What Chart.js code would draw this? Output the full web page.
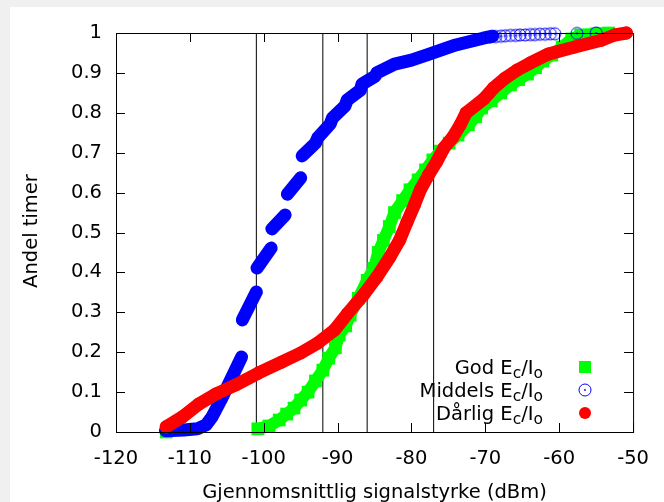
<!DOCTYPE html>
<html>
<head>
<meta charset="utf-8">
<script src="https://cdn.jsdelivr.net/npm/chart.js@4.4.1/dist/chart.umd.min.js"></script>
<style>
  html, body { margin: 0; padding: 0; background: #f0f0f0; overflow: hidden; }
  #wrap { position: absolute; left: 10px; top: 7px; width: 654px; height: 495px; background: #fff; }
  #chart { display: block; }
</style>
</head>
<body>
<div id="wrap"><canvas id="chart" width="654" height="495"></canvas></div>
<script>
// Akser
const xTicks = [-120, -110, -100, -90, -80, -70, -60, -50];
const yTicks = [0, 0.1, 0.2, 0.3, 0.4, 0.5, 0.6, 0.7, 0.8, 0.9, 1];
const yTickLabels = ['0', '0.1', '0.2', '0.3', '0.4', '0.5', '0.6', '0.7', '0.8', '0.9', '1'];
const xTitle = 'Gjennomsnittlig signalstyrke (dBm)';
const yTitle = 'Andel timer';

// Loddrette referanselinjer (dBm)
const refLines = [-101, -92, -86, -77];

// Serier: signalstyrke (x) og andel timer (y), null = brudd i kurven
const seriesNames = ['God', 'Middels', 'Dårlig'];

const godX = [-113.2, null,
  -100.8, -99.3, -97.9, -96.9, -95.9, -95.0, -94.0, -93.0, -92.0, -91.2, -90.3, -89.8, -88.9, -88.3, -87.2,
  -86.0, -85.1, -84.5, -83.8, -83.0, -82.3, -81.2, -80.2, -79.1, -78.1, -77.1, -76.1, -74.9, -73.7, -72.3,
  -71.3, -70.5, -69.2, -67.9, -66.6, -65.5, -64.3, -63.2, -62.2, -61.0, -59.6, -58.3, -57.1, -55.0, -53.3];
const godY = [0, null,
  0.008, 0.015, 0.030, 0.045, 0.060, 0.080, 0.100, 0.128, 0.155, 0.185, 0.211, 0.243, 0.266, 0.293, 0.335,
  0.380, 0.410, 0.450, 0.480, 0.515, 0.550, 0.580, 0.607, 0.632, 0.657, 0.682, 0.704, 0.724, 0.744, 0.770,
  0.790, 0.812, 0.830, 0.850, 0.870, 0.883, 0.897, 0.913, 0.930, 0.945, 0.965, 0.985, 0.995, 0.998, 1.0];

const middelsX = [-113.3, -110.8, -109.0, -107.8, -107.0, -105.8, -104.5, -103.0, null,
  -102.9, -101.0, null,
  -100.9, -99.0, null,
  -98.9, -97.1, null,
  -96.8, -95.0, null,
  -94.8, -93.0, -92.7, -91.0, -90.7, -89.0, -88.7, -86.9, -86.7, -84.9, -84.7, -82.3, -80.0, -77.6, -74.0, -70.3, -69.0];
const middelsY = [0.003, 0.005, 0.008, 0.018, 0.038, 0.080, 0.130, 0.188, null,
  0.281, 0.351, null,
  0.411, 0.461, null,
  0.509, 0.544, null,
  0.596, 0.637, null,
  0.692, 0.724, 0.737, 0.772, 0.787, 0.817, 0.832, 0.857, 0.872, 0.892, 0.900, 0.922, 0.932, 0.947, 0.970, 0.987, 0.992];
const middelsTailX = [-69.3, -68.6, -67.9, -67.3, -66.6, -65.9, -65.3, -64.6, -63.9, -63.3, -62.6, -61.9, -61.2, -60.6, -57.6, -55.0];
const middelsTailY = [0.990, 0.991, 0.992, 0.993, 0.994, 0.994, 0.995, 0.995, 0.996, 0.996, 0.997, 0.997, 0.998, 0.998, 0.999, 1.0];

const darligX = [-113.2, -111.0, -108.8, -106.5, -103.8, -100.7, -97.6, -95.0, -92.7, -90.4, -88.7, -86.4, -84.7,
  -82.9, -81.6, -80.6, -79.6, -78.8, -77.7, -76.6, -75.6, -74.4, -73.4, -72.6, -70.2, -68.9, -67.3, -65.7,
  -63.9, -61.5, -57.9, -54.3, -52.5, -50.9];
const darligY = [0.013, 0.038, 0.070, 0.095, 0.118, 0.148, 0.175, 0.198, 0.223, 0.256, 0.296, 0.346, 0.388,
  0.439, 0.481, 0.526, 0.569, 0.607, 0.644, 0.677, 0.712, 0.739, 0.770, 0.800, 0.835, 0.862, 0.887, 0.907,
  0.925, 0.947, 0.965, 0.982, 0.995, 1.0];

const FONT = 'DejaVu Sans';
const FS = 19.5;
const toPoints = (xs, ys) => xs.map((x, i) => ({ x: x, y: ys[i] }));

// åpen sirkel med prikk (Middels)
function ringMarker(r) {
    const c = document.createElement('canvas');
    c.width = c.height = 2 * r + 4;
    const g = c.getContext('2d');
    g.strokeStyle = '#0000ff';
    g.fillStyle = '#0000ff';
    g.lineWidth = 1;
    g.beginPath(); g.arc(r + 2, r + 2, r, 0, Math.PI * 2); g.stroke();
    g.beginPath(); g.arc(r + 2, r + 2, 0.9, 0, Math.PI * 2); g.fill();
    return c;
}

const refDatasets = refLines.map(v => ({
    data: [{ x: v, y: 0 }, { x: v, y: 1 }],
    showLine: true, borderColor: '#000', borderWidth: 1, pointRadius: 0, order: 5
}));

// Ramme og ticks innover på alle fire sider
const framePlugin = {
    id: 'frame',
    afterDatasetsDraw(chart) {
        const { ctx, chartArea: a, scales: { x, y } } = chart;
        ctx.save();
        ctx.strokeStyle = '#000';
        ctx.lineWidth = 1;
        ctx.beginPath();
        xTicks.forEach(v => {
            const px = Math.round(x.getPixelForValue(v)) + 0.5;
            ctx.moveTo(px, a.bottom); ctx.lineTo(px, a.bottom - 9);
            ctx.moveTo(px, a.top); ctx.lineTo(px, a.top + 9);
        });
        yTicks.forEach(v => {
            const py = Math.round(y.getPixelForValue(v)) + 0.5;
            ctx.moveTo(a.left, py); ctx.lineTo(a.left + 9, py);
            ctx.moveTo(a.right, py); ctx.lineTo(a.right - 9, py);
        });
        ctx.stroke();
        ctx.strokeRect(a.left + 0.5, a.top + 0.5, a.width, a.height);
        ctx.restore();
    }
};

// Titler og forklaring (med senket skrift)
const textPlugin = {
    id: 'texts',
    afterDraw(chart) {
        const ctx = chart.ctx;
        const a = chart.chartArea;
        ctx.save();
        ctx.fillStyle = '#000';
        ctx.font = FS + 'px ' + FONT;
        ctx.textAlign = 'center';
        ctx.textBaseline = 'alphabetic';
        ctx.fillText(xTitle, (a.left + a.right) / 2, 491);
        ctx.save();
        ctx.translate(27, 224);
        ctx.rotate(-Math.PI / 2);
        ctx.fillText(yTitle, 0, 0);
        ctx.restore();

        ctx.textAlign = 'left';
        const big = FS + 'px ' + FONT, small = '15.5px ' + FONT;
        const right = 533, mx = 575;
        const rows = [367, 390, 413];
        seriesNames.forEach((name, i) => {
            const base = rows[i];
            const parts = [[name + ' E', big, 0], ['c', small, 3.5], ['/I', big, 0], ['o', small, 3.5]];
            let w = 0;
            parts.forEach(p => { ctx.font = p[1]; w += ctx.measureText(p[0]).width; });
            let tx = right - w;
            parts.forEach(p => {
                ctx.font = p[1];
                ctx.fillText(p[0], tx, base + p[2]);
                tx += ctx.measureText(p[0]).width;
            });
            const cy = base - 7;
            if (i === 0) {
                ctx.fillStyle = '#00ff00';
                ctx.fillRect(mx - 6, cy - 6, 12, 12);
            } else if (i === 1) {
                ctx.drawImage(ringMarker(6), mx - 8, cy - 8);
            } else {
                ctx.fillStyle = '#ff0000';
                ctx.beginPath(); ctx.arc(mx, cy, 6, 0, Math.PI * 2); ctx.fill();
            }
            ctx.fillStyle = '#000';
        });
        ctx.restore();
    }
};

new Chart(document.getElementById('chart'), {
    type: 'scatter',
    data: {
        datasets: [
            ...refDatasets,
            {
                label: 'God', data: toPoints(godX, godY), showLine: true, spanGaps: false,
                borderColor: '#00ff00', borderWidth: 12, borderCapStyle: 'butt', borderJoinStyle: 'miter',
                pointStyle: 'rect', pointRadius: 9, pointBackgroundColor: '#00ff00', pointBorderWidth: 0,
                clip: false, order: 3
            },
            {
                label: 'Middels', data: toPoints(middelsX, middelsY), showLine: true, spanGaps: false,
                borderColor: '#0000ff', borderWidth: 13, borderCapStyle: 'round', borderJoinStyle: 'round',
                pointRadius: 0, clip: false, order: 2
            },
            {
                label: 'Middels hale', data: toPoints(middelsTailX, middelsTailY), showLine: false,
                pointStyle: ringMarker(6), clip: false, order: 2
            },
            {
                label: 'Dårlig', data: toPoints(darligX, darligY), showLine: true, spanGaps: false,
                borderColor: '#ff0000', borderWidth: 13, borderCapStyle: 'round', borderJoinStyle: 'round',
                pointRadius: 6.5, pointBackgroundColor: '#ff0000', pointBorderWidth: 0, clip: false, order: 1
            }
        ]
    },
    options: {
        responsive: false,
        animation: false,
        layout: { autoPadding: false, padding: { left: 0, top: 26, right: 25, bottom: 0 } },
        plugins: { legend: { display: false }, tooltip: { enabled: false } },
        elements: { line: { tension: 0 } },
        scales: {
            x: {
                type: 'linear', min: -120, max: -50,
                afterBuildTicks: s => { s.ticks = xTicks.map(v => ({ value: v })); },
                afterFit: s => { s.height = 70; },
                ticks: { color: '#000', font: { family: FONT, size: FS }, padding: 15, maxRotation: 0, autoSkip: false },
                grid: { display: false, drawTicks: false },
                border: { display: false }
            },
            y: {
                type: 'linear', min: 0, max: 1,
                afterBuildTicks: s => { s.ticks = yTicks.map(v => ({ value: v })); },
                afterFit: s => { s.width = 106; },
                ticks: {
                    color: '#000', font: { family: FONT, size: FS }, padding: 14, autoSkip: false,
                    callback: (v) => yTickLabels[Math.round(v * 10)]
                },
                grid: { display: false, drawTicks: false },
                border: { display: false }
            }
        }
    },
    plugins: [framePlugin, textPlugin]
});
</script>
</body>
</html>
